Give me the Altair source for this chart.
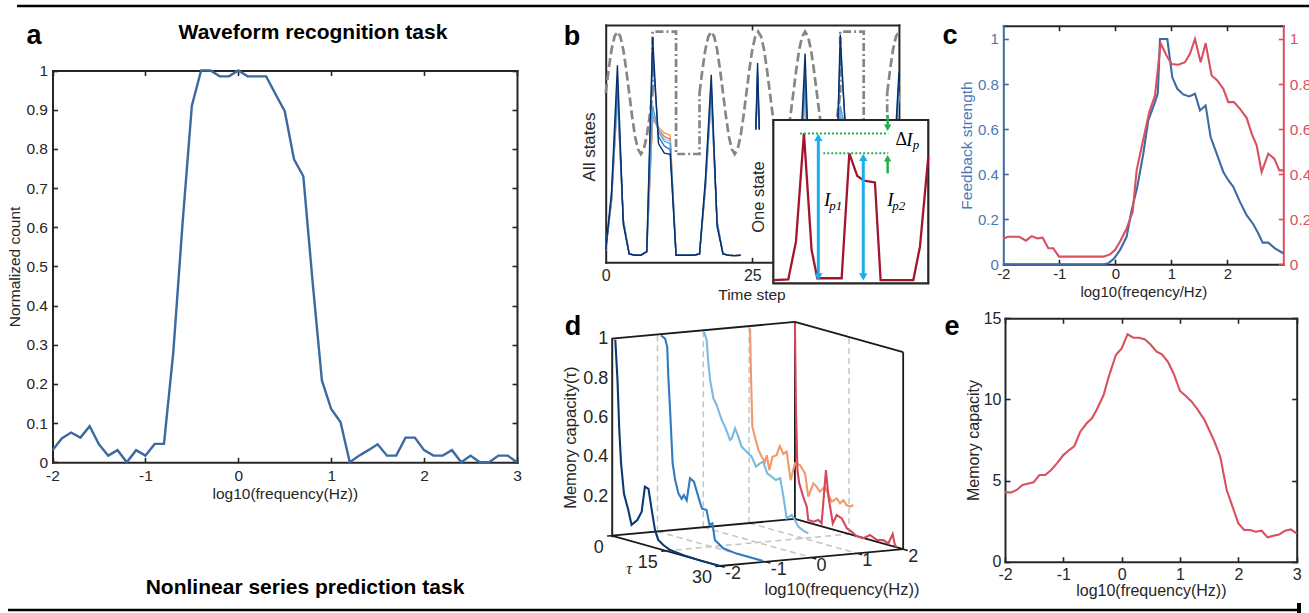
import altair as alt
import pandas as pd

W, H = 1309, 613
SANS = "Liberation Sans"
SERIF = "Liberation Serif"
AXC = "#262626"

# ======================= DATA =======================
# (a) waveform recognition task
a_freq = [-2.0, -1.9, -1.8, -1.7, -1.6, -1.5, -1.4, -1.3, -1.2, -1.1, -1.0, -0.9, -0.8,
          -0.7, -0.6, -0.5, -0.4, -0.3, -0.2, -0.1, 0.0, 0.1, 0.2, 0.3, 0.4, 0.5, 0.6,
          0.7, 0.8, 0.9, 1.0, 1.1, 1.2, 1.3, 1.4, 1.5, 1.6, 1.7, 1.8, 1.9, 2.0, 2.1,
          2.2, 2.3, 2.4, 2.5, 2.6, 2.7, 2.8, 2.9, 3.0]
a_count = [0.031, 0.061, 0.076, 0.063, 0.092, 0.046, 0.017, 0.031, 0.0, 0.031, 0.017,
           0.047, 0.047, 0.28, 0.61, 0.91, 1.0, 1.0, 0.985, 0.985, 1.0, 0.985, 0.985,
           0.985, 0.94, 0.896, 0.773, 0.73, 0.46, 0.209, 0.136, 0.103, 0.0, 0.017,
           0.031, 0.046, 0.017, 0.017, 0.063, 0.063, 0.031, 0.017, 0.017, 0.031, 0.0,
           0.017, 0.0, 0.0, 0.017, 0.017, 0.0]

# (b) input waveform, values in [-1, 1]
b_sine_t1 = [0, 0.5, 1, 1.5, 2, 2.5, 3, 3.5, 4, 4.5, 5, 5.5, 6, 6.5, 7, 7.5, 8]
b_sine_v1 = [0, 0.38, 0.71, 0.92, 1, 0.92, 0.71, 0.38, 0, -0.38, -0.71, -0.92, -1,
             -0.92, -0.71, -0.38, 0]
b_sine_t2 = [16, 16.5, 17, 17.5, 18, 18.5, 19, 19.5, 20, 20.5, 21, 21.5, 22, 22.5, 23,
             23.5, 24, 24.5, 25, 25.5, 26, 26.5, 27, 27.5, 28, 28.5, 29, 29.5, 30, 30.5,
             31, 31.5, 32, 32.5, 33, 33.5, 34, 34.5, 35, 35.5, 36, 36.5, 37, 37.5, 38,
             38.5, 39, 39.5, 40]
b_sine_v2 = [0, 0.38, 0.71, 0.92, 1, 0.92, 0.71, 0.38, 0, -0.38, -0.71, -0.92, -1, -0.92,
             -0.71, -0.38, 0, 0.38, 0.71, 0.92, 1, 0.92, 0.71, 0.38, 0, -0.38, -0.71,
             -0.92, -1, -0.92, -0.71, -0.38, 0, 0.38, 0.71, 0.92, 1, 0.92, 0.71, 0.38, 0,
             -0.38, -0.71, -0.92, -1, -0.92, -0.71, -0.38, 0]
b_sine_t3 = [48, 48.5, 49, 49.5, 50]
b_sine_v3 = [0, 0.38, 0.71, 0.92, 1]
b_sq_t1 = [8, 8, 12, 12, 16, 16]
b_sq_v1 = [0, 1, 1, -1, -1, 0]
b_sq_t2 = [40, 40, 44, 44, 48, 48]
b_sq_v2 = [0, 1, 1, -1, -1, 0]

# (b) reservoir states (normalised), three visible pieces
b_t_a = [0, 1, 2, 3, 4, 5, 6, 7, 8, 9, 10, 11, 12, 13, 14, 15, 16, 17, 18, 19, 20, 21, 22, 23]
b_t_b = [29, 30, 31, 32, 33, 34, 35, 36, 37, 38, 39, 40, 41, 42, 43, 44, 45, 46, 47, 48, 49, 50]
b_t_f = [25.6, 25.9, 26.2]
b_names = ["orange", "red", "sky", "light", "blue", "navy"]
b_colors = ["#e9a44f", "#e26a6a", "#9fcbe6", "#5aa5d8", "#2c6fb2", "#0a2f6b"]
b_state_a = {
    "orange": [0.05, 0.26, 0.70, 0.18, 0.035, 0.03, 0.03, 0.045, 0.60, 0.57, 0.545, 0.535, 0.03, 0.03, 0.03, 0.03, 0.035, 0.31, 0.70, 0.17, 0.035, 0.03, 0.028, 0.03],
    "red": [0.05, 0.26, 0.71, 0.18, 0.035, 0.03, 0.03, 0.045, 0.62, 0.56, 0.53, 0.52, 0.03, 0.03, 0.03, 0.03, 0.035, 0.31, 0.71, 0.17, 0.035, 0.03, 0.028, 0.03],
    "sky": [0.05, 0.27, 0.70, 0.18, 0.035, 0.03, 0.03, 0.045, 0.64, 0.555, 0.52, 0.51, 0.03, 0.03, 0.03, 0.03, 0.035, 0.31, 0.70, 0.17, 0.035, 0.03, 0.028, 0.03],
    "light": [0.05, 0.27, 0.72, 0.18, 0.035, 0.03, 0.03, 0.045, 0.66, 0.55, 0.51, 0.50, 0.03, 0.03, 0.03, 0.03, 0.035, 0.32, 0.72, 0.17, 0.035, 0.03, 0.028, 0.03],
    "blue": [0.05, 0.28, 0.76, 0.17, 0.035, 0.03, 0.03, 0.045, 0.88, 0.53, 0.49, 0.475, 0.03, 0.03, 0.03, 0.03, 0.035, 0.33, 0.75, 0.16, 0.035, 0.03, 0.028, 0.03],
    "navy": [0.05, 0.30, 0.83, 0.16, 0.035, 0.03, 0.03, 0.045, 0.95, 0.50, 0.46, 0.455, 0.03, 0.03, 0.03, 0.03, 0.035, 0.35, 0.79, 0.15, 0.035, 0.03, 0.028, 0.03],
}
b_state_b = {
    "orange": [0.03, 0.03, 0.03, 0.035, 0.31, 0.71, 0.18, 0.035, 0.03, 0.03, 0.045, 0.60, 0.57, 0.545, 0.535, 0.03, 0.03, 0.03, 0.03, 0.035, 0.31, 0.70],
    "red": [0.03, 0.03, 0.03, 0.035, 0.31, 0.72, 0.18, 0.035, 0.03, 0.03, 0.045, 0.62, 0.56, 0.53, 0.52, 0.03, 0.03, 0.03, 0.03, 0.035, 0.31, 0.71],
    "sky": [0.03, 0.03, 0.03, 0.035, 0.31, 0.72, 0.18, 0.035, 0.03, 0.03, 0.045, 0.64, 0.555, 0.52, 0.51, 0.03, 0.03, 0.03, 0.03, 0.035, 0.31, 0.70],
    "light": [0.03, 0.03, 0.03, 0.035, 0.32, 0.74, 0.18, 0.035, 0.03, 0.03, 0.045, 0.66, 0.55, 0.51, 0.50, 0.03, 0.03, 0.03, 0.03, 0.035, 0.32, 0.72],
    "blue": [0.03, 0.03, 0.03, 0.035, 0.33, 0.80, 0.17, 0.035, 0.03, 0.03, 0.045, 0.90, 0.53, 0.49, 0.475, 0.03, 0.03, 0.03, 0.03, 0.035, 0.33, 0.76],
    "navy": [0.03, 0.03, 0.03, 0.035, 0.35, 0.88, 0.16, 0.035, 0.03, 0.03, 0.045, 0.96, 0.50, 0.46, 0.455, 0.03, 0.03, 0.03, 0.03, 0.035, 0.35, 0.80],
}
b_state_f = {
    "orange": [0.56, 0.71, 0.56], "red": [0.56, 0.72, 0.56], "sky": [0.56, 0.72, 0.56],
    "light": [0.56, 0.74, 0.56], "blue": [0.56, 0.80, 0.56], "navy": [0.56, 0.84, 0.56],
}

# (b) inset: one state
bi_t = [0, 2.03, 3.07, 4.15, 5.19, 5.96, 9.26, 10.3, 11.38, 12.28, 13.77, 14.54, 18.97, 19.87, 21.0]
bi_v = [0.02, 0.024, 0.255, 0.918, 0.204, 0.031, 0.031, 0.796, 0.657, 0.629, 0.618, 0.02, 0.02, 0.224, 0.776]
bi_peak_t = [6.1, 12.19]          # where the Ip arrows stand
bi_peak_v = [0.918, 0.796]        # Ip1, Ip2 levels
bi_level_from = [3.61, 6.77]      # dotted guide start
bi_level_to = 15.58
bi_green_t = 15.49

# (c) feedback strength (blue) and second response (red)
c_blue_f = [-2.0, -0.2, -0.125, -0.018, 0.083, 0.202, 0.292, 0.393, 0.5, 0.589, 0.708,
            0.76, 0.798, 0.929, 1.018, 1.107, 1.214, 1.321, 1.423, 1.512, 1.613, 1.702,
            1.81, 1.929, 2.018, 2.107, 2.226, 2.345, 2.464, 2.554, 2.631, 2.732, 2.851, 3.0]
c_blue_v = [0.0, 0.0, 0.004, 0.027, 0.063, 0.122, 0.24, 0.344, 0.491, 0.639, 0.72, 0.76,
            1.0, 1.0, 0.83, 0.779, 0.754, 0.745, 0.757, 0.683, 0.705, 0.565, 0.491, 0.41,
            0.373, 0.344, 0.277, 0.218, 0.178, 0.137, 0.096, 0.096, 0.071, 0.049]
c_red_f = [-2.0, -1.911, -1.714, -1.595, -1.494, -1.393, -1.298, -1.196, -1.107, -1.006,
           -0.214, -0.095, -0.006, 0.083, 0.202, 0.31, 0.381, 0.47, 0.607, 0.708, 0.81,
           0.917, 1.006, 1.125, 1.244, 1.333, 1.423, 1.524, 1.613, 1.72, 1.821, 1.929,
           2.018, 2.119, 2.226, 2.345, 2.435, 2.524, 2.613, 2.732, 2.839, 2.929, 3.0]
c_red_v = [0.115, 0.122, 0.122, 0.105, 0.125, 0.115, 0.118, 0.071, 0.071, 0.034, 0.034,
           0.044, 0.063, 0.1, 0.159, 0.233, 0.417, 0.521, 0.676, 0.749, 0.981, 0.926,
           0.889, 0.886, 0.897, 0.934, 1.0, 0.897, 0.981, 0.838, 0.816, 0.779, 0.72, 0.72,
           0.69, 0.65, 0.58, 0.528, 0.41, 0.491, 0.469, 0.417, 0.417]

# (d) memory capacity vs delay tau, one curve per log10 frequency
d_freqs = [-2, -1, 0, 1, 2]
d_names = ["f-2", "f-1", "f0", "f1", "f2"]
d_colors = ["#0b3a72", "#2f7bbf", "#7ab9e2", "#f2996b", "#d5485c"]
d_tau = {
    "f-2": [1, 1.6, 2.1, 2.6, 3.4, 4.6, 5.5, 7.1, 8.3, 9.2, 10.2, 11.1, 12, 12.9, 14.3, 16.2, 19.9, 24.5, 30],
    "f-1": [1, 2.1, 2.7, 3.0, 3.5, 4.2, 4.9, 5.8, 6.7, 7.3, 8.1, 9.0, 10.1, 11.3, 12.3, 13.6, 14.4, 15.2, 15.9, 18.2, 21.9, 29.3],
    "f0": [0.2, 0.94, 1.4, 1.9, 2.8, 3.7, 5.1, 6.2, 7.4, 7.9, 8.8, 9.7, 10.6, 12.0, 13.4, 14.6, 15.7, 16.6, 17.7, 18.9, 20.1, 21.3, 22.2, 23.1, 24.5, 25.4, 26.3, 27.7, 29.1],
    "f1": [0.26, 0.54, 0.9, 1.6, 2.6, 3.5, 4.4, 4.9, 5.6, 6.5, 7.6, 8.5, 9.5, 10.4, 11.5, 12.7, 14.1, 15.5, 16.4, 17.8, 18.7, 19.6, 21.0, 22.9, 24.3, 25.2, 26.1, 27.0, 28.0, 28.9],
    "f2": [0.0, 0.3, 0.7, 1.2, 2.3, 3.3, 3.7, 5.1, 6.5, 7.4, 8.6, 9.3, 10.5, 11.6, 13.0, 14.4, 15.7, 17.1, 19.0, 20.8, 22.7, 24.5, 25.9, 27.1, 27.7, 28.2],
}
d_mc = {
    "f-2": [1.0, 0.8, 0.55, 0.38, 0.23, 0.154, 0.083, 0.116, 0.164, 0.296, 0.29, 0.187, 0.09, 0.045, 0.026, 0.01, 0.003, 0.0, 0.0],
    "f-1": [1.0, 0.99, 0.95, 0.80, 0.63, 0.367, 0.286, 0.223, 0.20, 0.222, 0.20, 0.316, 0.305, 0.235, 0.18, 0.179, 0.107, 0.119, 0.038, 0.008, 0.0, 0.0],
    "f0": [0.994, 0.955, 0.84, 0.757, 0.669, 0.64, 0.571, 0.534, 0.481, 0.492, 0.547, 0.51, 0.464, 0.445, 0.427, 0.383, 0.405, 0.418, 0.365, 0.354, 0.343, 0.358, 0.269, 0.164, 0.188, 0.167, 0.138, 0.125, 0.118],
    "f1": [0.99, 0.746, 0.494, 0.447, 0.384, 0.355, 0.334, 0.37, 0.298, 0.37, 0.384, 0.435, 0.40, 0.416, 0.277, 0.368, 0.367, 0.332, 0.218, 0.293, 0.281, 0.26, 0.292, 0.226, 0.25, 0.229, 0.25, 0.23, 0.227, 0.24],
    "f2": [0.993, 0.554, 0.252, 0.187, 0.125, 0.079, 0.013, 0.012, 0.028, 0.015, 0.292, 0.16, 0.031, 0.079, 0.069, 0.026, 0.016, 0.0, 0.0, 0.025, 0.01, 0.018, 0.008, 0.062, 0.01, 0.0],
}
d_tau_ticks = [0, 15, 30]
d_f_ticks = [-2, -1, 0, 1, 2]
d_z_ticks = [0.2, 0.4, 0.6, 0.8, 1]

# (e) total memory capacity
e_freq = [-2.0, -1.89, -1.8, -1.7, -1.51, -1.41, -1.31, -1.21, -1.11, -1.0, -0.9, -0.81,
          -0.71, -0.6, -0.51, -0.43, -0.31, -0.23, -0.1, 0.0, 0.1, 0.2, 0.3, 0.4, 0.49,
          0.6, 0.69, 0.79, 0.89, 1.0, 1.1, 1.2, 1.3, 1.42, 1.5, 1.59, 1.69, 1.8, 1.9,
          2.0, 2.1, 2.2, 2.3, 2.4, 2.5, 2.6, 2.7, 2.8, 2.9, 3.0]
e_mc = [4.27, 4.27, 4.42, 4.73, 4.89, 5.34, 5.34, 5.65, 6.06, 6.57, 6.88, 7.13, 8.01, 8.53,
        8.84, 9.35, 10.27, 11.3, 12.74, 13.15, 14.01, 13.8, 13.8, 13.7, 13.4, 12.94, 12.78,
        12.33, 11.6, 10.52, 10.21, 9.86, 9.39, 8.73, 8.12, 7.4, 6.47, 4.42, 3.39, 2.36,
        1.95, 1.95, 1.85, 1.91, 1.5, 1.6, 1.68, 1.91, 1.99, 1.75]

# ======================= LAYOUT (pixel boxes) =======================
A_X, A_Y = [52.5, 517.0], [462.3, 70.5]
B_X, B_Y = [605.7, 898.9], [262.3, 25.0]
BW_Y = [154.0, 31.7]
BI_X, BI_Y = [773.3, 928.3], [283.3, 120.0]
C_X, C_Y = [1003.3, 1283.3], [264.3, 25.7]
D_X, D_Y = [611.7, 794.9], [535.7, 338.7]
E_X, E_Y = [1005.0, 1296.7], [561.7, 318.3]

CA = "#3b6aa0"
CB = "#3f6aa6"
CBL = "#4a78b4"
CR = "#d9515f"


def S(dom, rng):
    return alt.Scale(domain=dom, range=rng, nice=False, zero=False)


def axis(orient, at, values=None, labels=False, ticks=False, domain=False, color=AXC,
         label_color=None, label_size=15, title=None, title_size=15, title_color=None,
         title_pad=4, label_pad=4, tick_size=5, width=2.0, fmt="~g"):
    off = {"bottom": at - H, "top": -at, "left": -at, "right": at - W}[orient]
    kw = dict(orient=orient, offset=off, grid=False, labels=labels, ticks=ticks,
              domain=domain, domainColor=color, domainWidth=width, domainCap="square",
              tickColor=color, tickWidth=1.6, tickSize=tick_size if ticks else 0,
              title=title)
    if values is not None:
        kw["values"] = values
    if labels:
        kw.update(labelFlush=False, labelOverlap=False, labelFont=SANS,
                  labelFontSize=label_size, labelColor=label_color or color,
                  labelPadding=label_pad,
                  labelExpr=("datum.value < 0 ? '-' + format(-datum.value, '%s') : "
                             "format(datum.value, '%s')") % (fmt, fmt))
    if title:
        kw.update(titleFont=SANS, titleFontSize=title_size, titleFontWeight="normal",
                  titleColor=title_color or label_color or color, titlePadding=title_pad)
    return alt.Axis(**kw)


def txt(text, x, y, size=15, bold=False, angle=0, color=AXC, font=SANS, align="center",
        italic=False, baseline="middle"):
    mk = dict(text=text, fontSize=size, font=font, color=color, align=align, baseline=baseline)
    if bold:
        mk["fontWeight"] = "bold"
    if angle:
        mk["angle"] = angle
    if italic:
        mk["fontStyle"] = "italic"
    return alt.Chart(pd.DataFrame({"k": [0]})).mark_text(**mk).encode(
        x=alt.value(x), y=alt.value(y))


layers = []

# ---------- frame lines, titles, panel letters ----------
one = pd.DataFrame({"k": [0]})
layers.append(alt.Chart(one).mark_rule(color="black", strokeWidth=2.5).encode(
    x=alt.value(17), x2=alt.value(1309), y=alt.value(6)))
layers.append(alt.Chart(one).mark_rule(color="black", strokeWidth=2.5).encode(
    x=alt.value(8), x2=alt.value(1299), y=alt.value(610)))
layers.append(alt.Chart(one).mark_rule(color="black", strokeWidth=4).encode(
    x=alt.value(1299), y=alt.value(603), y2=alt.value(613)))
layers.append(txt("Waveform recognition task", 313, 39, size=21, bold=True, color="black",
                  baseline="alphabetic"))
layers.append(txt("Nonlinear series prediction task", 305, 594, size=21, bold=True,
                  color="black", baseline="alphabetic"))
for letter, lx, ly in [("a", 34, 43.5), ("b", 572, 45), ("c", 950, 43.5), ("d", 573, 335),
                       ("e", 952, 335)]:
    layers.append(txt(letter, lx, ly, size=27, bold=True, color="black",
                      baseline="alphabetic"))

# ---------- generic framed panel ----------
def framed(df, xf, yf, sx, sy, X, Y, xt, yt, color, lw, xtitle, ytitle, lsize, tsize,
           xlp, ylp, xtp, ytp):
    main = alt.Chart(df).mark_line(color=color, strokeWidth=lw).encode(
        x=alt.X(f"{xf}:Q", scale=sx, axis=axis("bottom", Y[0], xt, labels=True, domain=True,
                                               title=xtitle, label_size=lsize,
                                               title_size=tsize, label_pad=xlp,
                                               title_pad=xtp)),
        y=alt.Y(f"{yf}:Q", scale=sy, axis=axis("left", X[0], yt, labels=True, domain=True,
                                               title=ytitle, label_size=lsize,
                                               title_size=tsize, label_pad=ylp,
                                               title_pad=ytp)))
    inner = alt.Chart(df).mark_point(opacity=0, size=1).encode(
        x=alt.X(f"{xf}:Q", scale=sx, axis=axis("top", Y[0], xt, ticks=True)),
        y=alt.Y(f"{yf}:Q", scale=sy, axis=axis("right", X[0], yt, ticks=True)))
    far = alt.Chart(df).mark_point(opacity=0, size=1).encode(
        x=alt.X(f"{xf}:Q", scale=sx, axis=axis("bottom", Y[1], xt, ticks=True, domain=True)),
        y=alt.Y(f"{yf}:Q", scale=sy, axis=axis("left", X[1], yt, ticks=True, domain=True)))
    return [inner, far, main]


# ---------- panel a ----------
a_df = pd.DataFrame({"f": a_freq, "c": a_count})
layers += framed(a_df, "f", "c", S([-2, 3], A_X), S([0, 1], A_Y), A_X, A_Y,
                 [-2, -1, 0, 1, 2, 3], [0, 0.1, 0.2, 0.3, 0.4, 0.5, 0.6, 0.7, 0.8, 0.9, 1],
                 CA, 2.4, "log10(frequency(Hz))", "Normalized count", 15.5, 15.5, 6, 5, 3, 3)

# ---------- panel b ----------
sxb, syb, sywb = S([0, 50], B_X), S([0, 1], B_Y), S([-1, 1], BW_Y)
sine_rows = []
for seg, (ts, vs) in enumerate([(b_sine_t1, b_sine_v1), (b_sine_t2, b_sine_v2),
                                (b_sine_t3, b_sine_v3)]):
    for i, (t, v) in enumerate(zip(ts, vs)):
        sine_rows.append({"t": t, "v": v, "g": seg, "o": i})
sq_rows = []
for seg, (ts, vs) in enumerate([(b_sq_t1, b_sq_v1), (b_sq_t2, b_sq_v2)]):
    for i, (t, v) in enumerate(zip(ts, vs)):
        sq_rows.append({"t": t, "v": v, "g": seg, "o": i})
layers.append(alt.Chart(pd.DataFrame(sine_rows)).mark_line(
    color="#868686", strokeWidth=2.7, strokeDash=[9, 4]).encode(
    x=alt.X("t:Q", scale=sxb, axis=axis("bottom", B_Y[0], [0, 25], labels=True, domain=True,
                                        label_size=16, label_pad=5)),
    y=alt.Y("v:Q", scale=sywb, axis=None), detail="g:N", order="o:Q"))
layers.append(alt.Chart(pd.DataFrame(sq_rows)).mark_line(
    color="#868686", strokeWidth=2.7, strokeDash=[8, 3, 2, 3]).encode(
    x=alt.X("t:Q", scale=sxb, axis=axis("top", B_Y[0], [25], ticks=True)),
    y=alt.Y("v:Q", scale=sywb, axis=None), detail="g:N", order="o:Q"))

st_rows = []
for name in b_names:
    for piece, ts, vals in [("a", b_t_a, b_state_a[name]), ("b", b_t_b, b_state_b[name]),
                            ("f", b_t_f, b_state_f[name])]:
        for i, (t, v) in enumerate(zip(ts, vals)):
            st_rows.append({"s": name, "g": name + piece, "t": t, "v": v, "o": i})
st_df = pd.DataFrame(st_rows)
layers.append(alt.Chart(st_df).mark_line(strokeWidth=1.4).encode(
    x=alt.X("t:Q", scale=sxb, axis=axis("bottom", B_Y[1], [25], ticks=True, domain=True)),
    y=alt.Y("v:Q", scale=syb, axis=axis("left", B_X[0], domain=True)),
    color=alt.Color("s:N", scale=alt.Scale(domain=b_names, range=b_colors), legend=None),
    detail="g:N", order="o:Q"))
layers.append(alt.Chart(st_df.head(1)).mark_point(opacity=0, size=1).encode(
    x=alt.X("t:Q", scale=sxb, axis=None),
    y=alt.Y("v:Q", scale=syb, axis=axis("left", B_X[1], domain=True))))

# inset
sxi, syi = S([0, 21], BI_X), S([0, 1], BI_Y)
layers.append(alt.Chart(pd.DataFrame({"x0": [0], "x1": [21], "y0": [0], "y1": [1]})).mark_rect(
    fill="white", stroke="#262626", strokeWidth=2.2).encode(
    x=alt.X("x0:Q", scale=sxi, axis=None), x2="x1:Q",
    y=alt.Y("y0:Q", scale=syi, axis=None), y2="y1:Q"))
layers.append(alt.Chart(pd.DataFrame({"t": bi_t, "v": bi_v, "o": list(range(len(bi_t)))})).mark_line(
    color="#a3142f", strokeWidth=2.3).encode(
    x=alt.X("t:Q", scale=sxi, axis=None), y=alt.Y("v:Q", scale=syi, axis=None), order="o:Q"))
lev_df = pd.DataFrame({"x0": bi_level_from, "x1": [bi_level_to] * 2, "y": bi_peak_v})
layers.append(alt.Chart(lev_df).mark_rule(color="#21b14b", strokeWidth=2,
                                          strokeDash=[2, 2]).encode(
    x=alt.X("x0:Q", scale=sxi, axis=None), x2="x1:Q", y=alt.Y("y:Q", scale=syi, axis=None)))
# blue double arrows (Ip1, Ip2)
arr_df = pd.DataFrame({"x": bi_peak_t, "y0": [0.035, 0.035],
                       "y1": [v - 0.03 for v in bi_peak_v]})
layers.append(alt.Chart(arr_df).mark_rule(color="#1aaeea", strokeWidth=3).encode(
    x=alt.X("x:Q", scale=sxi, axis=None), y=alt.Y("y0:Q", scale=syi, axis=None), y2="y1:Q"))
layers.append(alt.Chart(pd.DataFrame({"x": bi_peak_t, "y": [v - 0.025 for v in bi_peak_v]})).mark_point(
    shape="triangle-up", filled=True, size=70, color="#1aaeea", opacity=1).encode(
    x=alt.X("x:Q", scale=sxi, axis=None), y=alt.Y("y:Q", scale=syi, axis=None)))
layers.append(alt.Chart(pd.DataFrame({"x": bi_peak_t, "y": [0.04, 0.04]})).mark_point(
    shape="triangle-down", filled=True, size=70, color="#1aaeea", opacity=1).encode(
    x=alt.X("x:Q", scale=sxi, axis=None), y=alt.Y("y:Q", scale=syi, axis=None)))
# green arrows (delta Ip)
g_df = pd.DataFrame({"x": [bi_green_t, bi_green_t], "y0": [1.03, 0.673], "y1": [0.96, 0.76]})
layers.append(alt.Chart(g_df).mark_rule(color="#21b14b", strokeWidth=2.5).encode(
    x=alt.X("x:Q", scale=sxi, axis=None), y=alt.Y("y0:Q", scale=syi, axis=None), y2="y1:Q"))
layers.append(alt.Chart(pd.DataFrame({"x": [bi_green_t], "y": [bi_peak_v[0] + 0.035]})).mark_point(
    shape="triangle-down", filled=True, size=55, color="#21b14b", opacity=1).encode(
    x=alt.X("x:Q", scale=sxi, axis=None), y=alt.Y("y:Q", scale=syi, axis=None)))
layers.append(alt.Chart(pd.DataFrame({"x": [bi_green_t], "y": [bi_peak_v[1] - 0.03]})).mark_point(
    shape="triangle-up", filled=True, size=55, color="#21b14b", opacity=1).encode(
    x=alt.X("x:Q", scale=sxi, axis=None), y=alt.Y("y:Q", scale=syi, axis=None)))
# inset math labels
big_df = pd.DataFrame({"x": [7.3, 15.85, 18.45], "y": [0.51, 0.51, 0.88], "t": ["I", "I", "I"]})
sub_df = pd.DataFrame({"x": [8.45, 17.0, 19.35], "y": [0.475, 0.475, 0.845], "t": ["p1", "p2", "p"]})
layers.append(alt.Chart(big_df).mark_text(font=SERIF, fontStyle="italic", fontSize=19,
                                          color="black").encode(
    x=alt.X("x:Q", scale=sxi, axis=None), y=alt.Y("y:Q", scale=syi, axis=None), text="t:N"))
layers.append(alt.Chart(sub_df).mark_text(font=SERIF, fontStyle="italic", fontSize=13,
                                          color="black").encode(
    x=alt.X("x:Q", scale=sxi, axis=None), y=alt.Y("y:Q", scale=syi, axis=None), text="t:N"))
layers.append(alt.Chart(pd.DataFrame({"x": [17.35], "y": [0.88], "t": ["Δ"]})).mark_text(
    font=SERIF, fontSize=18, color="black").encode(
    x=alt.X("x:Q", scale=sxi, axis=None), y=alt.Y("y:Q", scale=syi, axis=None), text="t:N"))
layers.append(txt("All states", 590, 147, size=17, angle=270))
layers.append(txt("One state", 759, 197, size=16.5, angle=270))
layers.append(txt("Time step", 752, 295, size=15.5))

# ---------- panel c ----------
sxc, syc = S([-2, 3], C_X), S([0, 1.059], C_Y)
c_yt = [0, 0.2, 0.4, 0.6, 0.8, 1]
cb_df = pd.DataFrame({"f": c_blue_f, "v": c_blue_v})
cr_df = pd.DataFrame({"f": c_red_f, "v": c_red_v})
layers.append(alt.Chart(cb_df).mark_point(opacity=0, size=1).encode(
    x=alt.X("f:Q", scale=sxc, axis=axis("bottom", C_Y[1], [-1, 0, 1, 2], ticks=True,
                                        domain=True)),
    y=alt.Y("v:Q", scale=syc, axis=axis("right", C_X[0], c_yt, ticks=True, color=CB))))
layers.append(alt.Chart(cr_df).mark_point(opacity=0, size=1).encode(
    x=alt.X("f:Q", scale=sxc, axis=None),
    y=alt.Y("v:Q", scale=syc, axis=axis("left", C_X[1], c_yt, ticks=True, color=CR))))
layers.append(alt.Chart(cb_df).mark_line(color=CB, strokeWidth=2.1).encode(
    x=alt.X("f:Q", scale=sxc, axis=axis("bottom", C_Y[0], [-2, -1, 0, 1, 2], labels=True,
                                        domain=True, title="log10(freqency/Hz)",
                                        label_size=15, title_size=15, label_pad=2,
                                        title_pad=3)),
    y=alt.Y("v:Q", scale=syc, axis=axis("left", C_X[0], c_yt, labels=True, domain=True,
                                        color=CB, label_color=CBL, title="Feedback strength",
                                        label_size=15, title_size=15.5, label_pad=5,
                                        title_pad=3))))
layers.append(alt.Chart(cr_df).mark_line(color=CR, strokeWidth=2.1).encode(
    x=alt.X("f:Q", scale=sxc, axis=axis("top", C_Y[0], [-1, 0, 1, 2], ticks=True)),
    y=alt.Y("v:Q", scale=syc, axis=axis("right", C_X[1], c_yt, labels=True, domain=True,
                                        color=CR, label_size=15.5, label_pad=6))))

# ---------- panel d (3-D view projected onto the page) ----------
def proj(f, t, z):
    return (f + 2) + t * 0.0788, z + (f + 2) * 0.02132 - t * 0.005127


sxd, syd = S([0, 4], D_X), S([0, 1], D_Y)


def seg_df(pairs):
    rows = []
    for p0, p1 in pairs:
        u0, v0 = proj(*p0)
        u1, v1 = proj(*p1)
        rows.append({"u0": u0, "v0": v0, "u1": u1, "v1": v1})
    return pd.DataFrame(rows)


d_grid = [((f, 0, 0), (f, 0, 1)) for f in d_f_ticks[1:-1]]
d_grid += [((2, 15, 0), (2, 15, 1)), ((-2, 15, 0), (2, 15, 0))]
d_grid += [((f, 0, 0), (f, 30, 0)) for f in d_f_ticks[1:-1]]
d_box = [((-2, 0, 0), (-2, 30, 0)), ((-2, 30, 0), (2, 30, 0)), ((-2, 0, 0), (2, 0, 0)),
         ((2, 0, 0), (2, 30, 0)), ((2, 0, 0), (2, 0, 1)), ((2, 30, 0), (2, 30, 1)),
         ((-2, 0, 1), (2, 0, 1)), ((2, 0, 1), (2, 30, 1))]
d_tk = [((f, 30, 0), (f, 31.3, 0)) for f in d_f_ticks]
d_tk += [((-2, t, 0), (-2.1, t, 0)) for t in d_tau_ticks]


def seg_layer(pairs, **mk):
    return alt.Chart(seg_df(pairs)).mark_rule(**mk).encode(
        x=alt.X("u0:Q", scale=sxd, axis=None), x2="u1:Q",
        y=alt.Y("v0:Q", scale=syd, axis=None), y2="v1:Q")


layers.append(seg_layer(d_grid, color="#c4c4c4", strokeWidth=1.5, strokeDash=[6, 4]))
layers.append(seg_layer(d_box, color="#1a1a1a", strokeWidth=1.8))
layers.append(seg_layer(d_tk, color="#1a1a1a", strokeWidth=1.5))

d_rows = []
for name, fv in zip(d_names, d_freqs):
    for i, (t, m) in enumerate(zip(d_tau[name], d_mc[name])):
        u, v = proj(fv, t, m)
        d_rows.append({"s": name, "u": u, "v": v, "o": i})
layers.append(alt.Chart(pd.DataFrame(d_rows)).mark_line(strokeWidth=2.1).encode(
    x=alt.X("u:Q", scale=sxd, axis=None),
    y=alt.Y("v:Q", scale=syd, axis=axis("left", D_X[0], d_z_ticks, labels=True,
                                        domain=True, title="Memory capacity(τ)",
                                        label_size=18, title_size=16.5, label_pad=4,
                                        title_pad=4)),
    color=alt.Color("s:N", scale=alt.Scale(domain=d_names, range=d_colors), legend=None),
    detail="s:N", order="o:Q"))

tl = [dict(zip(("u", "v"), proj(-2, t, 0)), t=str(t)) for t in d_tau_ticks]
layers.append(alt.Chart(pd.DataFrame(tl)).mark_text(
    fontSize=18, font=SANS, color=AXC, align="right", baseline="middle", dx=-8, dy=12).encode(
    x=alt.X("u:Q", scale=sxd, axis=None), y=alt.Y("v:Q", scale=syd, axis=None), text="t:N"))
fl = [dict(zip(("u", "v"), proj(f, 30, 0)), t=str(f)) for f in d_f_ticks]
layers.append(alt.Chart(pd.DataFrame(fl)).mark_text(
    fontSize=18, font=SANS, color=AXC, align="left", baseline="middle", dx=5, dy=8).encode(
    x=alt.X("u:Q", scale=sxd, axis=None), y=alt.Y("v:Q", scale=syd, axis=None), text="t:N"))
layers.append(txt("τ", 629, 569, size=16, font=SERIF, italic=True))
layers.append(txt("log10(frequency(Hz))", 842, 590, size=16.5))

# ---------- panel e ----------
e_df = pd.DataFrame({"f": e_freq, "m": e_mc})
layers += framed(e_df, "f", "m", S([-2, 3], E_X), S([0, 15], E_Y), E_X, E_Y,
                 [-2, -1, 0, 1, 2, 3], [0, 5, 10, 15], CR, 2.1, "log10(frequency(Hz))",
                 "Memory capacity", 16, 16, 5, 4, 0, 2)

chart = alt.layer(*layers).resolve_scale(
    x="independent", y="independent", color="independent"
).resolve_axis(x="independent", y="independent").properties(
    width=W, height=H, padding=0, autosize=alt.AutoSizeParams(type="none"),
    background="white"
).configure_view(strokeOpacity=0)

chart.save("out.html", embed_options={"renderer": "svg", "actions": False})
